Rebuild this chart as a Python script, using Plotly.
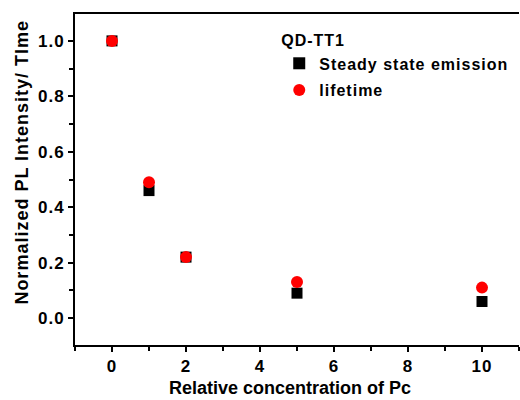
import plotly.graph_objects as go

# Relative Pc concentration and normalized quenching data for QD-TT1
concentration = [0, 1, 2, 5, 10]
steady_state = [1.0, 0.46, 0.22, 0.09, 0.06]
lifetime = [1.0, 0.49, 0.22, 0.13, 0.11]

x_ticks = [0, 2, 4, 6, 8, 10]
y_ticks = [0.0, 0.2, 0.4, 0.6, 0.8, 1.0]

FONT = "Liberation Sans, Arial, sans-serif"

fig = go.Figure()
fig.add_trace(go.Scatter(
    x=concentration, y=steady_state, mode="markers",
    name="<b>Steady state emission</b>", legendgroup="a",
    marker=dict(symbol="square", size=11, color="black"),
))
fig.add_trace(go.Scatter(
    x=concentration, y=lifetime, mode="markers",
    name="<b>lifetime</b>", legendgroup="b",
    marker=dict(symbol="circle", size=12, color="#ff0000"),
))

axis_common = dict(
    showgrid=False, zeroline=False,
    linecolor="black", linewidth=2,
    ticks="outside", ticklen=5, tickwidth=2, tickcolor="black",
    tickfont=dict(family=FONT, size=17, color="black", weight="bold"),
)

fig.update_xaxes(
    range=[-1, 11], tickvals=x_ticks, ticktext=[f"<b>{v}</b>" for v in x_ticks],
    mirror=True,
    minor=dict(ticks="outside", ticklen=4, tickwidth=2, tickcolor="black", dtick=1, tick0=0),
    **axis_common,
)
fig.update_yaxes(
    range=[-0.097, 1.097], tickvals=y_ticks, ticktext=[f"<b>{v:.1f}</b>" for v in y_ticks],
    minor=dict(ticks="outside", ticklen=4, tickwidth=2, tickcolor="black", dtick=0.1, tick0=0),
    **axis_common,
)

# Axis titles as annotations so they can sit exactly where wanted
fig.add_annotation(
    text="<b>Relative concentration of Pc</b>", xref="paper", yref="paper",
    x=0.484, y=-0.13, xanchor="center", yanchor="middle", showarrow=False,
    font=dict(family=FONT, size=18, color="black"),
)
fig.add_annotation(
    text="<b>Normalized PL Intensity/ TIme</b>", xref="paper", yref="paper",
    x=-0.119, y=0.553, xanchor="center", yanchor="middle", showarrow=False,
    textangle=-90, font=dict(family=FONT, size=18, color="black"),
)

fig.update_layout(
    width=520, height=400,
    margin=dict(l=75, r=1, t=14, b=55),
    paper_bgcolor="white", plot_bgcolor="white",
    showlegend=True,
    legend=dict(
        x=0.46, y=0.965, xanchor="left", yanchor="top",
        bgcolor="rgba(0,0,0,0)",
        title=dict(text="<b>QD-TT1</b>", font=dict(family=FONT, size=16, color="black")),
        font=dict(family=FONT, size=16, color="black"),
        tracegroupgap=3, itemsizing="constant",
    ),
)

# Slightly wider letter spacing on the text, in the style of the original graphing software
spacing_js = """
document.querySelectorAll('.legend [clip-path]').forEach(function(e){e.removeAttribute('clip-path');});
document.querySelectorAll('.legendtext, .legendtitletext').forEach(function(e){e.style.letterSpacing='1px';});
document.querySelectorAll('.annotation-text').forEach(function(e){
  if (e.textContent.indexOf('Normalized') === 0) { e.style.letterSpacing='1px'; }
});
document.querySelectorAll('.xtick text, .ytick text').forEach(function(e){e.style.letterSpacing='1px';});
"""

fig.write_html("out.html", post_script=spacing_js)
